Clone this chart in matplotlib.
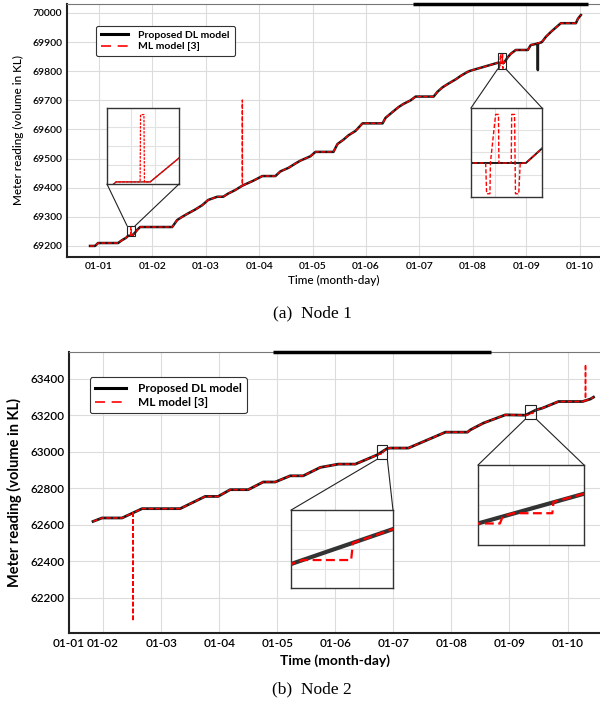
import numpy as np
import matplotlib.pyplot as plt
from matplotlib.lines import Line2D
from matplotlib.patches import Rectangle, ConnectionPatch

plt.rcParams['font.family'] = ['Lato', 'DejaVu Sans']

day_labels = ['01-%02d' % d for d in range(1, 11)]

# ---- node 1: path shared by both models (day, KL) ----
n1_days = [0.831, 0.925, 0.981, 1.356, 1.432, 1.507, 1.544, 1.615, 1.675, 1.713,
           1.769, 2.370, 2.463, 2.557, 2.651, 2.801, 2.932, 3.045, 3.214, 3.326,
           3.420, 3.552, 3.683, 3.889, 4.058, 4.302, 4.396, 4.546, 4.677, 4.771,
           4.959, 5.053, 5.390, 5.465, 5.578, 5.672, 5.803, 5.934, 6.310, 6.366,
           6.497, 6.610, 6.704, 6.835, 6.929, 7.266, 7.341, 7.435, 7.548, 7.679,
           7.773, 7.904, 7.960, 8.467, 8.583, 8.655, 8.711, 8.805, 9.030, 9.086,
           9.293, 9.368, 9.462, 9.555, 9.649, 9.931, 9.968, 10.024]
n1_vals = [69200, 69200, 69210, 69210, 69220, 69228, 69235, 69235, 69246, 69255,
           69265, 69265, 69289, 69300, 69310, 69325, 69340, 69358, 69369, 69369,
           69380, 69392, 69407, 69424, 69440, 69440, 69456, 69468, 69483, 69493,
           69508, 69523, 69523, 69550, 69565, 69580, 69595, 69621, 69621, 69640,
           69660, 69677, 69688, 69700, 69713, 69713, 69730, 69745, 69758, 69772,
           69784, 69798, 69802, 69829, 69829, 69848, 69860, 69873, 69873, 69890,
           69900, 69918, 69935, 69950, 69965, 69965, 69980, 69993]
# where the DL model leaves the path
n1_dl_days = [9.2165, 9.2175, 9.2185, 9.2195]
n1_dl_vals = [69895, 69804, 69804, 69895]
# where the ML model leaves the path
n1_ml_days = [1.594, 1.595, 1.602, 1.603,
              3.682, 3.683, 3.684, 3.685,
              8.498, 8.500, 8.507, 8.508, 8.519, 8.525, 8.526,
              8.552, 8.553, 8.559, 8.561, 8.568, 8.571]
n1_ml_vals = [69235, 69266, 69266, 69235,
              69407, 69701, 69701, 69407,
              69829, 69810, 69810, 69829, 69859, 69859, 69829,
              69829, 69859, 69859, 69810, 69810, 69829]

# ---- node 2 ----
n2_days = [1.828, 1.983, 2.328, 2.672, 3.328, 3.759, 3.983, 4.190, 4.500, 4.759,
           4.966, 5.224, 5.448, 5.741, 6.052, 6.345, 6.724, 6.897, 6.948, 7.259,
           7.897, 8.276, 8.328, 8.552, 8.931, 9.276, 9.460, 9.569, 9.845, 10.259,
           10.397, 10.448]
n2_vals = [62619, 62638, 62638, 62689, 62689, 62756, 62756, 62793, 62793, 62835,
           62835, 62869, 62869, 62915, 62933, 62933, 62984, 63019, 63021, 63021,
           63108, 63108, 63121, 63158, 63203, 63201, 63230, 63240, 63276, 63276,
           63290, 63300]
n2_dl_days = []
n2_dl_vals = []
n2_ml_days = [2.5165, 2.517, 2.5175,
              6.744, 6.826, 6.829,
              9.314, 9.319, 9.338, 9.405, 9.407,
              10.309, 10.310, 10.311]
n2_ml_vals = [62666, 62072, 62666,
              62988, 62988, 63005,
              63201, 63208, 63211, 63211, 63222,
              63281, 63480, 63281]
n2_tick_days = [1.414, 2, 3, 4, 5, 6, 7, 8, 9, 10]

# zoom windows: (day0, day1, kl0, kl1)
n1_zooms = [(1.525, 1.675, 69234, 69269), (8.467, 8.617, 69808, 69863)]
n2_zooms = [(6.724, 6.897, 62960, 63038), (9.276, 9.460, 63180, 63258)]


def merge(days, vals, xd, xv):
    d = np.concatenate([days, xd])
    v = np.concatenate([vals, xv])
    o = np.argsort(d, kind='stable')
    return d[o], v[o]


def draw(ax, dl, ml, dl_lw, ml_lw, dash, dl_col='#1a1a1a'):
    ax.plot(dl[0], dl[1], color=dl_col, lw=dl_lw, zorder=2)
    ax.plot(ml[0], ml[1], color='red', lw=ml_lw, ls=(0, dash), zorder=3)


def style(ax, fs):
    ax.grid(True, color='#dcdcdc', lw=0.8)
    ax.set_axisbelow(True)
    ax.tick_params(length=0, labelsize=fs)
    for t in ax.get_xticklabels() + ax.get_yticklabels():
        t.set_fontweight('semibold')
    ax.spines['right'].set_visible(False)
    ax.spines['left'].set_color('#222222')
    ax.spines['bottom'].set_color('#222222')
    ax.spines['left'].set_linewidth(1.5)
    ax.spines['bottom'].set_linewidth(1.5)
    ax.spines['top'].set_color('#777777')


def add_inset(fig, ax, rect, zoom, dl, ml, dl_lw, ml_lw, dash, up, dl_col='#1a1a1a'):
    ins = fig.add_axes(rect)
    draw(ins, dl, ml, dl_lw, ml_lw, dash, dl_col)
    ins.set_xlim(zoom[0], zoom[1])
    ins.set_ylim(zoom[2], zoom[3])
    ins.set_xticks(np.linspace(zoom[0], zoom[1], 4)[1:-1])
    ins.set_yticks(np.linspace(zoom[2], zoom[3], 5)[1:-1])
    ins.tick_params(length=0, labelbottom=False, labelleft=False)
    ins.grid(True, color='#e2e2e2', lw=0.8)
    for s in ins.spines.values():
        s.set_color('#333333')
        s.set_linewidth(1.0)
    ax.add_patch(Rectangle((zoom[0], zoom[2]), zoom[1] - zoom[0], zoom[3] - zoom[2],
                           fill=False, ec='#222222', lw=0.8, zorder=4))
    if up:
        pairs = [((0, 1), (zoom[0], zoom[2])), ((1, 1), (zoom[1], zoom[2]))]
    else:
        pairs = [((0, 0), (zoom[0], zoom[3])), ((1, 0), (zoom[1], zoom[3]))]
    for a, b in pairs:
        fig.add_artist(ConnectionPatch(xyA=a, coordsA=ins.transAxes, xyB=b,
                                       coordsB=ax.transData, color='#222222', lw=0.8))


def legend(ax, anchor, fs):
    h = [Line2D([], [], color='black', lw=2.2),
         Line2D([], [], color='red', lw=1.2, ls=(0, (6, 4)))]
    lg = ax.legend(h, ['Proposed DL model', 'ML model [3]'], loc='upper left',
                   bbox_to_anchor=anchor, handlelength=2.6,
                   handletextpad=1.0, labelspacing=0.25, borderpad=0.45,
                   framealpha=1, fancybox=True, prop={'weight': 'bold', 'size': fs})
    lg.get_frame().set_edgecolor('#333333')
    lg.get_frame().set_linewidth(0.8)


def top_bar(ax, x0, x1):
    ax.plot([x0, x1], [1, 1], transform=ax.transAxes, color='black', lw=2.5,
            clip_on=False, solid_capstyle='butt', zorder=6)


fig = plt.figure(figsize=(6, 7.08), dpi=100)

# ---------- (a) Node 1 ----------
dl1 = merge(n1_days, n1_vals, n1_dl_days, n1_dl_vals)
ml1 = merge(n1_days, n1_vals, n1_ml_days, n1_ml_vals)
ax1 = fig.add_axes([0.1117, 0.637, 0.889, 0.3574])
draw(ax1, dl1, ml1, 1.8, 1.0, (3, 1.5))
ax1.set_xlim(0.40, 10.39)
ax1.set_ylim(69162, 70031)
ax1.set_xticks(range(1, 11))
ax1.set_xticklabels(day_labels)
ax1.set_yticks(range(69200, 70001, 100))
style(ax1, 7.5)
ax1.set_xlabel('Time (month-day)', fontsize=8.5, fontweight='medium', labelpad=3)
ax1.set_ylabel('Meter reading (volume in KL)', fontsize=8.5, fontweight='medium', labelpad=6)
top_bar(ax1, 0.649, 0.977)
legend(ax1, (0.045, 0.935), 7.5)
add_inset(fig, ax1, [0.1783, 0.740, 0.12, 0.1073], n1_zooms[0], dl1, ml1, 1.0, 0.9, (2, 1), False,
          '#7a1f1f')
add_inset(fig, ax1, [0.785, 0.7218, 0.1183, 0.1257], n1_zooms[1], dl1, ml1, 1.4, 1.0, (3, 1.5), True)
fig.text(0.52, 0.558, '(a)  Node 1', family='Liberation Serif', fontsize=12.5, ha='center', va='center')

# ---------- (b) Node 2 ----------
dl2 = merge(n2_days, n2_vals, n2_dl_days, n2_dl_vals)
ml2 = merge(n2_days, n2_vals, n2_ml_days, n2_ml_vals)
ax2 = fig.add_axes([0.115, 0.106, 0.886, 0.397])
draw(ax2, dl2, ml2, 2.0, 1.1, (3, 1.5))
ax2.set_xlim(1.414, 10.57)
ax2.set_ylim(62008, 63548)
ax2.set_xticks(n2_tick_days)
ax2.set_xticklabels(day_labels)
ax2.set_yticks(range(62200, 63401, 200))
style(ax2, 8.5)
ax2.set_xlabel('Time (month-day)', fontsize=10, fontweight='bold', labelpad=4)
ax2.set_ylabel('Meter reading (volume in KL)', fontsize=10.5, fontweight='bold', labelpad=6)
top_bar(ax2, 0.384, 0.793)
legend(ax2, (0.028, 0.93), 8.5)
add_inset(fig, ax2, [0.485, 0.1695, 0.17, 0.110], n2_zooms[0], dl2, ml2, 3.0, 1.6, (4, 2), True,
          '#333333')
add_inset(fig, ax2, [0.7967, 0.2302, 0.1767, 0.113], n2_zooms[1], dl2, ml2, 3.0, 1.6, (4, 2), True,
          '#333333')
fig.text(0.52, 0.026, '(b)  Node 2', family='Liberation Serif', fontsize=12.5, ha='center', va='center')

fig.savefig('out.png', dpi=100)
